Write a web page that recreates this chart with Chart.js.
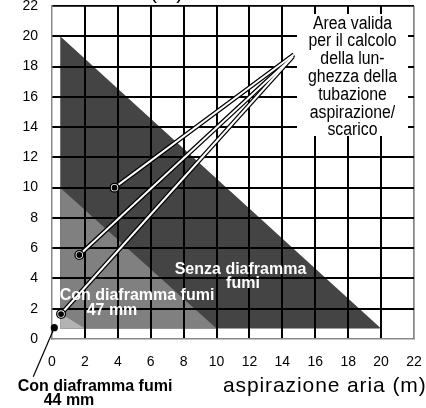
<!DOCTYPE html>
<html>
<head>
<meta charset="utf-8">
<script src="https://cdn.jsdelivr.net/npm/chart.js@4/dist/chart.umd.min.js"></script>
<style>
  html, body { margin: 0; padding: 0; background: #fff; }
  #wrap { width: 426px; height: 408px; }
  canvas { display: block; }
</style>
</head>
<body>
<div id="wrap"><canvas id="c" width="426" height="408"></canvas></div>
<script>
// Axis ticks (metres)
const xTicks = [0, 2, 4, 6, 8, 10, 12, 14, 16, 18, 20, 22];
const yTicks = [0, 2, 4, 6, 8, 10, 12, 14, 16, 18, 20, 22];

// Valid areas: x = air intake length, y = flue length
const zoneSenza = [{x: 0.5, y: 20}, {x: 20, y: 0.7}, {x: 0.5, y: 0.7}];
const zone47mm  = [{x: 0.5, y: 10}, {x: 10, y: 0.7}, {x: 0.5, y: 0.7}];
const zone44mm  = [{x: 0.5, y: 1.7}, {x: 2, y: 0.7}, {x: 0.5, y: 0.7}];

// Leader lines from each area to the note box
const markerPoints = [{x: 3.8, y: 10}, {x: 1.66, y: 5.55}, {x: 0.55, y: 1.65}];
const leaderEnds   = [{x: 14.7, y: 18.8}, {x: 14.55, y: 18.55}, {x: 14.65, y: 18.68}];
const point44      = [{x: 0.14, y: 0.75}, {x: -1.14, y: -2.5}];

const noteLines = ['Area valida', 'per il calcolo', 'della lun-', 'ghezza della',
                   'tubazione', 'aspirazione/', 'scarico'];

const FONT = '"Liberation Sans", Arial, Helvetica, sans-serif';

function zone(data, color, order) {
  return { data, borderColor: 'rgba(0,0,0,0)', borderWidth: 0, backgroundColor: color,
           fill: 'shape', pointRadius: 0, order };
}

const datasets = [
  zone(zoneSenza, '#444444', 12),
  zone(zone47mm, '#808080', 11),
  zone(zone44mm, '#b3b3b3', 10)
];
markerPoints.forEach((p, i) => {
  datasets.push({ data: [p, leaderEnds[i]], borderColor: '#000', borderWidth: 4.5,
                  pointRadius: 0, fill: false, order: 6 });
  datasets.push({ data: [p, leaderEnds[i]], borderColor: '#fff', borderWidth: 2,
                  pointRadius: 0, fill: false, order: 5 });
});
// marker: black core, white ring, thin black rim
datasets.push({ data: markerPoints, showLine: false, pointRadius: 5, pointBorderWidth: 0,
                pointBackgroundColor: '#000', order: 4 });
datasets.push({ data: markerPoints, showLine: false, pointRadius: 3.7, pointBorderWidth: 0,
                pointBackgroundColor: '#fff', order: 3 });
datasets.push({ data: markerPoints, showLine: false, pointRadius: 2.9, pointBorderWidth: 0,
                pointBackgroundColor: '#000', order: 2 });
datasets.push({ data: point44, borderColor: '#000', borderWidth: 1.2, fill: false,
                pointRadius: [3.6, 0], pointBorderWidth: 0, pointBackgroundColor: '#000',
                clip: false, order: 1 });

const LAST_ZONE_INDEX = 2;

// Grid lines drawn again on top of the filled areas
const gridOverZones = {
  id: 'gridOverZones',
  afterDatasetDraw(chart, args) {
    if (args.index === LAST_ZONE_INDEX) {
      chart.scales.x.drawGrid(chart.chartArea);
      chart.scales.y.drawGrid(chart.chartArea);
    }
  }
};

const annotations = {
  id: 'annotations',
  afterDraw(chart) {
    const ctx = chart.ctx;
    ctx.save();
    // note box
    ctx.fillStyle = '#fff';
    ctx.fillRect(297, 14, 111, 122);
    ctx.fillStyle = '#000';
    ctx.font = '18px ' + FONT;
    ctx.textAlign = 'center';
    ctx.textBaseline = 'alphabetic';
    noteLines.forEach((t, i) => {
      ctx.save();
      ctx.translate(352.5, 28.5 + i * 17.8);
      ctx.scale(0.88, 1);
      ctx.fillText(t, 0, 0);
      ctx.restore();
    });

    // area labels
    ctx.font = 'bold 16px ' + FONT;
    ctx.fillStyle = '#fff';
    ctx.fillText('Senza diaframma', 240.5, 274);
    ctx.fillText('fumi', 243, 287.5);
    ctx.fillText('Con diaframma fumi', 137, 299.5);
    ctx.fillText('47 mm', 112, 315);
    ctx.fillStyle = '#000';
    ctx.fillText('Con diaframma fumi', 95, 391);
    ctx.fillText('44 mm', 69, 405);

    // axis titles
    ctx.font = '21px ' + FONT;
    ctx.textAlign = 'left';
    ctx.letterSpacing = '0.9px';
    ctx.fillText('aspirazione aria (m)', 223, 392);
    ctx.fillText('(m)', 150, -1);
    ctx.restore();
  }
};

function gridColor(edgeColor) {
  return (c) => {
    const v = c.tick ? c.tick.value : null;
    if (v === 0) return 'rgba(0,0,0,0)';
    if (v === 22) return edgeColor;
    return '#000';
  };
}

new Chart(document.getElementById('c'), {
  type: 'line',
  data: { datasets },
  plugins: [gridOverZones, annotations],
  options: {
    responsive: false,
    animation: false,
    events: [],
    layout: { padding: { left: 0, right: 12, top: 6, bottom: 0 } },
    plugins: { legend: { display: false }, tooltip: { enabled: false } },
    scales: {
      x: {
        type: 'linear', min: 0, max: 22,
        afterBuildTicks: (s) => { s.ticks = xTicks.map(v => ({ value: v })); },
        afterFit: (s) => { s.height = 69; s.paddingLeft = 0; s.paddingRight = 0; },
        ticks: { color: '#000', padding: 15, font: { family: FONT, size: 14 },
                 maxRotation: 0, autoSkip: false },
        grid: { drawTicks: false, color: gridColor('#888'),
                lineWidth: (c) => (c.tick && c.tick.value === 22 ? 1.5 : 2) },
        border: { display: true, color: '#888', width: 1.5 }
      },
      y: {
        type: 'linear', min: 0, max: 22,
        afterBuildTicks: (s) => { s.ticks = yTicks.map(v => ({ value: v })); },
        afterFit: (s) => { s.width = 52; s.paddingTop = 0; s.paddingBottom = 0; },
        ticks: { color: '#000', padding: 14, font: { family: FONT, size: 14 }, autoSkip: false },
        grid: { drawTicks: false, color: gridColor('#000'),
                lineWidth: (c) => (c.tick && c.tick.value === 22 ? 1.5 : 2) },
        border: { display: true, color: '#888', width: 1.5 }
      }
    }
  }
});
</script>
</body>
</html>
